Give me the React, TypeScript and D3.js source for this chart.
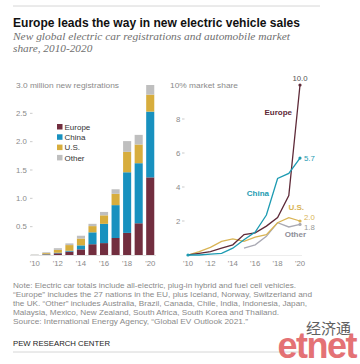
import React from 'react';
import * as d3 from 'd3';

const years = [2010, 2011, 2012, 2013, 2014, 2015, 2016, 2017, 2018, 2019, 2020];
const yearTicks = ["'10", "'12", "'14", "'16", "'18", "'20"];

// new registrations, millions
const europeReg = [0.001, 0.01, 0.03, 0.06, 0.1, 0.19, 0.21, 0.3, 0.39, 0.56, 1.37];
const chinaReg = [0.001, 0.005, 0.01, 0.015, 0.07, 0.21, 0.34, 0.58, 1.07, 1.06, 1.16];
const usReg = [0.001, 0.018, 0.05, 0.1, 0.12, 0.11, 0.15, 0.2, 0.36, 0.33, 0.3];
const otherReg = [0.005, 0.015, 0.03, 0.03, 0.05, 0.04, 0.06, 0.08, 0.19, 0.17, 0.17];

// market share, %
const europeShare = [0.01, 0.1, 0.2, 0.4, 0.6, 1.2, 1.3, 1.7, 2.2, 3.5, 10.0];
const chinaShare = [0, 0, 0.05, 0.1, 0.4, 0.9, 1.35, 2.35, 4.5, 4.8, 5.7];
const usShare = [0, 0.2, 0.45, 0.8, 0.95, 0.8, 1.05, 1.2, 1.9, 2.2, 2.0];
const otherYears = [2015, 2016, 2017, 2018, 2019, 2020];
const otherShare = [0.4, 0.6, 1.1, 1.9, 1.65, 1.8];

const regTicks = [0.5, 1.0, 1.5, 2.0, 2.5];
const shareTicks = [2, 4, 6, 8];

const notes = [
  'Note: Electric car totals include all-electric, plug-in hybrid and fuel cell vehicles.',
  '\u201cEurope\u201d includes the 27 nations in the EU, plus Iceland, Norway, Switzerland and',
  'the UK. \u201cOther\u201d includes Australia, Brazil, Canada, Chile, India, Indonesia, Japan,',
  'Malaysia, Mexico, New Zealand, South Africa, South Korea and Thailand.',
  'Source: International Energy Agency, \u201cGlobal EV Outlook 2021.\u201d',
];
const noteWidths = [283, 299, 294, 266, 235];

const C = { europe: '#722e3f', china: '#1891bf', us: '#d7ad3d', other: '#bfbfbf' };
const LINE = { europe: '#5e2a38', china: '#1d9bb2', us: '#d9b454', other: '#a9a9b3' };

const sans = "'Liberation Sans', Arial, sans-serif";
const serif = "'Liberation Serif', Georgia, serif";
const AX = 7.8;

const App: React.FC = () => {
  const yReg = d3.scaleLinear().domain([0, 3]).range([255, 85]);
  const xBar = d3.scaleBand<number>().domain(years).range([29, 156]).paddingInner(0.3).paddingOuter(0.15);

  const yShare = d3.scaleLinear().domain([0, 10]).range([255, 85]);
  const xLine = d3.scaleLinear().domain([2010, 2020]).range([188, 300]);

  const stackData = years.map((y, i) => ({ year: y, europe: europeReg[i], china: chinaReg[i], us: usReg[i], other: otherReg[i] }));
  const keys = ['europe', 'china', 'us', 'other'];
  const stacked = d3.stack<any>().keys(keys)(stackData);

  const line = d3.line<[number, number]>().x(d => xLine(d[0])).y(d => yShare(d[1]));
  const series = [
    { key: 'other', xs: otherYears, vs: otherShare },
    { key: 'us', xs: years, vs: usShare },
    { key: 'europe', xs: years, vs: europeShare },
    { key: 'china', xs: years, vs: chinaShare },
  ];

  const legend = [['Europe', C.europe], ['China', C.china], ['U.S.', C.us], ['Other', C.other]];

  return (
    <svg width={360} height={364} style={{ position: 'absolute', left: 0, top: 0, background: '#fff' }}>
      <line x1={13} x2={320} y1={6} y2={6} stroke="#d6d6d6" strokeWidth={1} />
      <text x={13} y={27} fontFamily={sans} fontWeight="bold" fontSize={12.1} fill="#111" textLength={287} lengthAdjust="spacingAndGlyphs">
        Europe leads the way in new electric vehicle sales
      </text>
      <text x={13} y={39.5} fontFamily={serif} fontStyle="italic" fontSize={11.3} fill="#6f6f6f" textLength={277} lengthAdjust="spacingAndGlyphs">
        New global electric car registrations and automobile market
      </text>
      <text x={13} y={51.5} fontFamily={serif} fontStyle="italic" fontSize={11.3} fill="#6f6f6f">
        share, 2010-2020
      </text>

      {/* bar chart */}
      <text x={16} y={88} fontFamily={sans} fontSize={AX} fill="#8a8a8a" textLength={103} lengthAdjust="spacingAndGlyphs">3.0 million new registrations</text>
      {regTicks.map(t => (
        <g key={t}>
          <text x={16} y={yReg(t) + 2.8} fontFamily={sans} fontSize={AX} fill="#8a8a8a">{t.toFixed(1)}</text>
          <line x1={30} x2={32.5} y1={yReg(t)} y2={yReg(t)} stroke="#aaa" strokeWidth={0.6} />
        </g>
      ))}
      {stacked.map(s => (
        <g key={s.key} fill={(C as any)[s.key]}>
          {s.map((d, i) => (
            <rect key={i} x={xBar(years[i])} width={xBar.bandwidth()} y={yReg(d[1])} height={Math.max(0, yReg(d[0]) - yReg(d[1]))} />
          ))}
        </g>
      ))}
      <line x1={30} x2={156} y1={255.5} y2={255.5} stroke="#cfcfcf" strokeWidth={0.6} />
      {yearTicks.map((t, i) => (
        <text key={t} x={(xBar(years[i * 2]) ?? 0) + xBar.bandwidth() / 2} y={266} textAnchor="middle" fontFamily={sans} fontSize={AX} fill="#8a8a8a">{t}</text>
      ))}
      {legend.map(([name, col], i) => (
        <g key={name}>
          <rect x={57} y={124 + i * 10.3} width={5.5} height={5.5} fill={col} />
          <text x={64.5} y={129.8 + i * 10.3} fontFamily={sans} fontSize={8} fill="#333">{name}</text>
        </g>
      ))}

      {/* line chart */}
      <text x={170} y={88} fontFamily={sans} fontSize={AX} fill="#8a8a8a" textLength={68} lengthAdjust="spacingAndGlyphs">10% market share</text>
      {shareTicks.map(t => (
        <g key={t}>
          <text x={176} y={yShare(t) + 2.8} fontFamily={sans} fontSize={AX} fill="#8a8a8a">{t}</text>
          <line x1={182} x2={184.5} y1={yShare(t)} y2={yShare(t)} stroke="#aaa" strokeWidth={0.6} />
        </g>
      ))}
      <line x1={186} x2={302} y1={255.5} y2={255.5} stroke="#e0e0e0" strokeWidth={0.6} />
      {series.map(s => (
        <path key={s.key} d={line(s.xs.map((x, i) => [x, s.vs[i]] as [number, number])) ?? ''} fill="none" stroke={(LINE as any)[s.key]} strokeWidth={1.3} />
      ))}
      <circle cx={xLine(2010)} cy={yShare(0)} r={1.6} fill={LINE.china} />
      {series.map(s => (
        <circle key={s.key} cx={xLine(2020)} cy={yShare(s.vs[s.vs.length - 1])} r={1.6} fill={(LINE as any)[s.key]} />
      ))}
      {yearTicks.map((t, i) => (
        <text key={t} x={xLine(years[i * 2])} y={266} textAnchor="middle" fontFamily={sans} fontSize={AX} fill="#8a8a8a">{t}</text>
      ))}
      <text x={xLine(2020)} y={yShare(10) - 4} textAnchor="middle" fontFamily={sans} fontSize={AX} fill="#555">10.0</text>
      <text x={304} y={yShare(5.7) + 2.8} fontFamily={sans} fontSize={AX} fill={LINE.china}>5.7</text>
      <text x={304} y={yShare(2.0) - 1} fontFamily={sans} fontSize={AX} fill={LINE.us}>2.0</text>
      <text x={304} y={yShare(1.8) + 5.5} fontFamily={sans} fontSize={AX} fill="#999">1.8</text>
      <text x={292} y={115} textAnchor="end" fontFamily={sans} fontWeight="bold" fontSize={8} fill={LINE.europe}>Europe</text>
      <text x={269} y={196} textAnchor="end" fontFamily={sans} fontWeight="bold" fontSize={8} fill={LINE.china}>China</text>
      <text x={304} y={210} textAnchor="end" fontFamily={sans} fontWeight="bold" fontSize={8} fill={LINE.us}>U.S.</text>
      <text x={306} y={237} textAnchor="end" fontFamily={sans} fontWeight="bold" fontSize={8} fill="#8e8e98">Other</text>

      {/* notes */}
      {notes.map((n, i) => (
        <text key={i} x={13} y={287.5 + i * 9} fontFamily={sans} fontSize={7.1} fill="#8a8a8a" textLength={noteWidths[i]} lengthAdjust="spacingAndGlyphs">{n}</text>
      ))}
      <text x={13} y={346} fontFamily={sans} fontSize={7.8} fill="#222" textLength={97} lengthAdjust="spacingAndGlyphs">PEW RESEARCH CENTER</text>
      <line x1={13} x2={300} y1={352} y2={352} stroke="#d6d6d6" strokeWidth={1} />

      {/* watermark */}
      <text x={351} y={334} textAnchor="end" fontFamily="'Noto Sans CJK SC', sans-serif" fontSize={15} fill="#444" opacity={0.85}>经济通</text>
      <text x={356} y={358} textAnchor="end" fontFamily={sans} fontWeight="bold" fontSize={36} fill="#e05a5d" opacity={0.85} letterSpacing={-1.5}>etnet</text>
    </svg>
  );
};

export default App;
